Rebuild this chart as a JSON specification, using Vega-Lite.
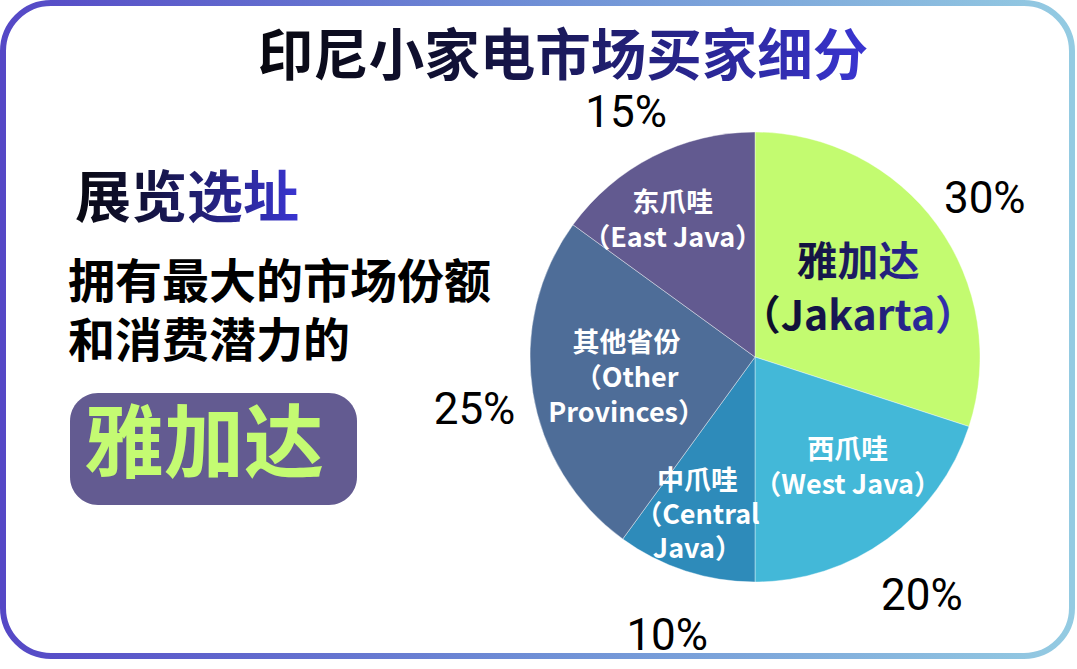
{
  "$schema": "https://vega.github.io/schema/vega-lite/v6.json",
  "width": 1077,
  "height": 669,
  "padding": 0,
  "autosize": {"type": "fit", "contains": "padding"},
  "background": "white",
  "config": {"view": {"stroke": null}},
  "datasets": {
    "slices": [
      {"name": "Jakarta", "label": "雅加达\n（Jakarta）", "value": 30, "order": 1, "pct": "30%"},
      {"name": "West Java", "label": "西爪哇\n（West Java）", "value": 20, "order": 2, "pct": "20%"},
      {"name": "Central Java", "label": "中爪哇\n（Central\nJava）", "value": 10, "order": 3, "pct": "10%"},
      {"name": "Other Provinces", "label": "其他省份\n（Other\nProvinces）", "value": 25, "order": 4, "pct": "25%"},
      {"name": "East Java", "label": "东爪哇\n（East Java）", "value": 15, "order": 5, "pct": "15%"}
    ]
  },
  "layer": [
    {
      "data": {"values": [{"k": "frame"}]},
      "mark": {
        "type": "rect",
        "cornerRadius": 48,
        "fill": null,
        "strokeWidth": 6,
        "stroke": {"gradient": "linear", "x1": 0, "y1": 0, "x2": 1, "y2": 0, "stops": [{"offset": 0, "color": "#5548c6"}, {"offset": 0.5, "color": "#6f8fd6"}, {"offset": 1, "color": "#94cbe2"}]}
      },
      "encoding": {
        "x": {"datum": 3, "type": "quantitative", "scale": {"domain": [0, 1077], "nice": false, "zero": false}, "axis": null},
        "x2": {"datum": 1072},
        "y": {"datum": 3, "type": "quantitative", "scale": {"domain": [0, 669], "nice": false, "zero": false, "reverse": true}, "axis": null},
        "y2": {"datum": 656}
      }
    },
    {
      "data": {"values": [{"t": "印尼小家电市场买家细分"}]},
      "mark": {
        "type": "text", "font": "Noto Sans CJK SC", "fontWeight": "bold", "fontSize": 55.5, "align": "center", "baseline": "middle",
        "fill": {"gradient": "linear", "x1": 0, "y1": 0, "x2": 1, "y2": 0, "stops": [{"offset": 0, "color": "#08080f"}, {"offset": 0.35, "color": "#12123a"}, {"offset": 1, "color": "#3a35d2"}]}
      },
      "encoding": {
        "text": {"field": "t"},
        "x": {"datum": 563, "type": "quantitative"},
        "y": {"datum": 58, "type": "quantitative"}
      }
    },
    {
      "data": {"values": [{"t": "展览选址"}]},
      "mark": {
        "type": "text", "font": "Noto Sans CJK SC", "fontWeight": "bold", "fontSize": 56, "align": "left", "baseline": "middle",
        "fill": {"gradient": "linear", "x1": 0, "y1": 0, "x2": 1, "y2": 0, "stops": [{"offset": 0, "color": "#08080f"}, {"offset": 0.3, "color": "#12123a"}, {"offset": 1, "color": "#3a35d2"}]}
      },
      "encoding": {
        "text": {"field": "t"},
        "x": {"datum": 75, "type": "quantitative"},
        "y": {"datum": 200, "type": "quantitative"}
      }
    },
    {
      "data": {"values": [{"t": "拥有最大的市场份额\n和消费潜力的"}]},
      "mark": {"type": "text", "font": "Noto Sans CJK SC", "fontWeight": "bold", "fontSize": 47, "lineHeight": 59, "lineBreak": "\n", "align": "left", "baseline": "middle", "color": "#000000"},
      "encoding": {
        "text": {"field": "t"},
        "x": {"datum": 68, "type": "quantitative"},
        "y": {"datum": 284, "type": "quantitative"}
      }
    },
    {
      "data": {"values": [{"k": "box"}]},
      "mark": {"type": "rect", "cornerRadius": 28, "color": "#635b91"},
      "encoding": {
        "x": {"datum": 70, "type": "quantitative"},
        "x2": {"datum": 357},
        "y": {"datum": 393, "type": "quantitative"},
        "y2": {"datum": 505}
      }
    },
    {
      "data": {"values": [{"t": "雅加达"}]},
      "mark": {"type": "text", "font": "Noto Sans CJK SC", "fontWeight": "bold", "fontSize": 80, "align": "left", "baseline": "middle", "color": "#c4fb72"},
      "encoding": {
        "text": {"field": "t"},
        "x": {"datum": 84, "type": "quantitative"},
        "y": {"datum": 447, "type": "quantitative"}
      }
    },
    {
      "data": {"name": "slices"},
      "mark": {"type": "arc", "outerRadius": 225, "stroke": "#ffffff", "strokeWidth": 0.4},
      "encoding": {
        "theta": {"field": "value", "type": "quantitative", "stack": true},
        "order": {"field": "order", "type": "quantitative"},
        "color": {"field": "name", "type": "nominal", "legend": null,
          "scale": {"domain": ["Jakarta", "West Java", "Central Java", "Other Provinces", "East Java"], "range": ["#c3fb70", "#43b8d8", "#2e8bba", "#4e6d98", "#625a90"]}},
        "x": {"datum": 755, "type": "quantitative"},
        "y": {"datum": 357, "type": "quantitative"}
      }
    },
    {
      "data": {"name": "slices"},
      "mark": {"type": "text", "radius": 284, "dy": 10, "font": "Roboto", "fontSize": 44, "align": "center", "baseline": "middle", "color": "#000000"},
      "encoding": {
        "theta": {"field": "value", "type": "quantitative", "stack": true},
        "order": {"field": "order", "type": "quantitative"},
        "text": {"field": "pct"},
        "x": {"datum": 755, "type": "quantitative"},
        "y": {"datum": 357, "type": "quantitative"}
      }
    },
    {
      "data": {"name": "slices"},
      "mark": {"type": "text", "radius": 121, "dx": 5, "dy": -22, "font": "Noto Sans CJK SC", "fontWeight": "bold", "fontSize": 41, "lineHeight": 54, "lineBreak": "\n", "align": "center", "baseline": "middle",
        "fill": {"gradient": "linear", "x1": 0, "y1": 0, "x2": 1, "y2": 0, "stops": [{"offset": 0, "color": "#0a0a18"}, {"offset": 0.35, "color": "#15154a"}, {"offset": 1, "color": "#3833c6"}]}},
      "encoding": {
        "theta": {"field": "value", "type": "quantitative", "stack": true},
        "order": {"field": "order", "type": "quantitative"},
        "text": {"condition": {"test": "datum.name === 'Jakarta'", "field": "label"}, "value": ""},
        "x": {"datum": 755, "type": "quantitative"},
        "y": {"datum": 357, "type": "quantitative"}
      }
    },
    {
      "data": {"name": "slices"},
      "mark": {"type": "text", "radius": 144, "dx": 8, "dy": -22, "font": "Noto Sans CJK SC", "fontWeight": "bold", "fontSize": 27, "lineHeight": 35, "lineBreak": "\n", "align": "center", "baseline": "middle", "color": "#ffffff"},
      "encoding": {
        "theta": {"field": "value", "type": "quantitative", "stack": true},
        "order": {"field": "order", "type": "quantitative"},
        "text": {"condition": {"test": "datum.name === 'West Java'", "field": "label"}, "value": ""},
        "x": {"datum": 755, "type": "quantitative"},
        "y": {"datum": 357, "type": "quantitative"}
      }
    },
    {
      "data": {"name": "slices"},
      "mark": {"type": "text", "radius": 167, "dx": -6, "dy": -34, "font": "Noto Sans CJK SC", "fontWeight": "bold", "fontSize": 27, "lineHeight": 34, "lineBreak": "\n", "align": "center", "baseline": "middle", "color": "#ffffff"},
      "encoding": {
        "theta": {"field": "value", "type": "quantitative", "stack": true},
        "order": {"field": "order", "type": "quantitative"},
        "text": {"condition": {"test": "datum.name === 'Central Java'", "field": "label"}, "value": ""},
        "x": {"datum": 755, "type": "quantitative"},
        "y": {"datum": 357, "type": "quantitative"}
      }
    },
    {
      "data": {"name": "slices"},
      "mark": {"type": "text", "radius": 130, "dy": -33, "font": "Noto Sans CJK SC", "fontWeight": "bold", "fontSize": 27, "lineHeight": 35, "lineBreak": "\n", "align": "center", "baseline": "middle", "color": "#ffffff"},
      "encoding": {
        "theta": {"field": "value", "type": "quantitative", "stack": true},
        "order": {"field": "order", "type": "quantitative"},
        "text": {"condition": {"test": "datum.name === 'Other Provinces'", "field": "label"}, "value": ""},
        "x": {"datum": 755, "type": "quantitative"},
        "y": {"datum": 357, "type": "quantitative"}
      }
    },
    {
      "data": {"name": "slices"},
      "mark": {"type": "text", "radius": 155, "dx": -12, "dy": -15, "font": "Noto Sans CJK SC", "fontWeight": "bold", "fontSize": 27, "lineHeight": 35, "lineBreak": "\n", "align": "center", "baseline": "middle", "color": "#ffffff"},
      "encoding": {
        "theta": {"field": "value", "type": "quantitative", "stack": true},
        "order": {"field": "order", "type": "quantitative"},
        "text": {"condition": {"test": "datum.name === 'East Java'", "field": "label"}, "value": ""},
        "x": {"datum": 755, "type": "quantitative"},
        "y": {"datum": 357, "type": "quantitative"}
      }
    }
  ]
}
